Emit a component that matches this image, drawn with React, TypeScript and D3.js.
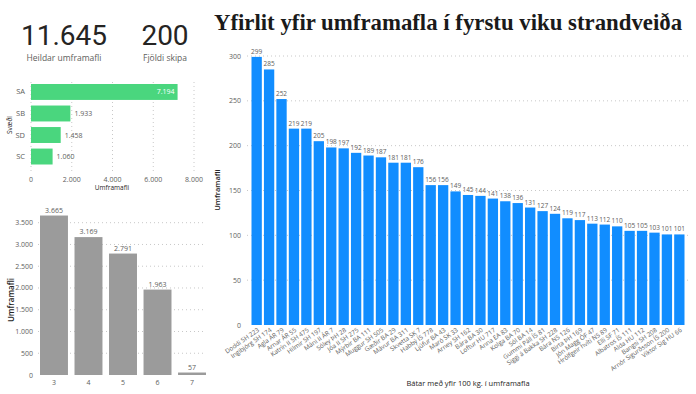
import * as d3 from "d3";
import React from "react";

const boats = [
  "Doddi SH 223", "Ingibjörg SH 174", "Agla ÁR 79", "Arnar ÁR 55", "Katrín II SH 475",
  "Hilmir SH 197", "Máni II ÁR 7", "Sóley ÞH 28", "Jóa II SH 275", "Mýrbir BA 111",
  "Muggur SH 505", "Gæðir BA 29", "Mávur BA 311", "Skvetta SK 7", "Habbý ÍS 778",
  "Ljúfur BA 43", "Maró SK 33", "Arney SH 162", "Bára BA 30", "Loftur HU 717",
  "Anna EA 83", "Kolga BA 70", "Sól BA 14", "Gummi Páll ÍS 81", "Siggi á Bakka SH 228",
  "Bára NS 126", "Birta ÞH 169", "Jón Magg ÓF 47", "Hrólfgeir hvíti NS 89", "Elli SF 71",
  "Albatros ÍS 111", "Alda HU 112", "Bangsi SH 208", "Arnór Sigurðsson ÍS 200", "Viktor Sig HU 66",
];
const boatValues = [
  299, 285, 252, 219, 219, 205, 198, 197, 192, 189, 187, 181, 181, 176, 156, 156, 149, 145,
  144, 141, 138, 136, 131, 127, 124, 119, 117, 113, 112, 110, 105, 105, 103, 101, 101,
];
const mainTicks = [0, 50, 100, 150, 200, 250, 300];

const areas = ["SA", "SB", "SD", "SC"];
const areaValues = [7194, 1933, 1458, 1060];
const areaTicks = [0, 2000, 4000, 6000, 8000];

const groups = ["3", "4", "5", "6", "7"];
const groupValues = [3665, 3169, 2791, 1963, 57];
const groupTicks = [0, 500, 1000, 1500, 2000, 2500, 3000, 3500];

const totalCatch = 11645;
const boatCount = 200;

const fmt = (v: number) => d3.format(",")(v).replace(/,/g, ".");

const FONT = "'Open Sans', 'Noto Sans', sans-serif";
const GRAY = "#605E5C";
const DARK = "#252423";

const App: React.FC = () => {
  // main chart scales
  const xMain = d3.scaleBand<string>().domain(boats).range([251.5, 684.5]).paddingInner(0.17).paddingOuter(0);
  const yMain = d3.scaleLinear().domain([0, 300]).range([325, 56]);

  // area (horizontal) chart
  const xArea = d3.scaleLinear().domain([0, 8000]).range([31, 194]);
  const yArea = d3.scaleBand<string>().domain(areas).range([84, 164.5]).paddingInner(0.26).paddingOuter(0);

  // group column chart
  const xGrp = d3.scaleBand<string>().domain(groups).range([40, 206]).paddingInner(0.19).paddingOuter(0);
  const yGrp = d3.scaleLinear().domain([0, 3500]).range([375, 222.7]);

  return (
    <svg width={696} height={394} style={{ position: "absolute", left: 0, top: 0, background: "#fff" }} fontFamily={FONT}>
      {/* KPI cards */}
      <text x={64} y={45} textAnchor="middle" fontFamily="Roboto, sans-serif" fontSize={28} fill={DARK}>{fmt(totalCatch)}</text>
      <text x={64} y={61} textAnchor="middle" fontSize={8.5} fill={GRAY}>Heildar umframafli</text>
      <text x={165} y={45} textAnchor="middle" fontFamily="Roboto, sans-serif" fontSize={28} fill={DARK}>{boatCount}</text>
      <text x={165} y={61} textAnchor="middle" fontSize={8.5} fill={GRAY}>Fjöldi skipa</text>

      {/* title */}
      <text x={448} y={30} textAnchor="middle" fontFamily="'Liberation Serif', serif" fontWeight="bold" fontSize={22.8} fill="#1a1a1a">
        Yfirlit yfir umframafla í fyrstu viku strandveiða
      </text>

      {/* horizontal area chart */}
      <g>
        {areaTicks.map((t) => (
          <g key={t}>
            <line x1={xArea(t)} x2={xArea(t)} y1={82} y2={172} stroke="#c8c8c8" strokeDasharray="1,3" />
            <text x={xArea(t)} y={182} textAnchor="middle" fontSize={7} fill={GRAY}>{fmt(t)}</text>
          </g>
        ))}
        {areas.map((a, i) => {
          const v = areaValues[i];
          const y = yArea(a)!;
          const bw = yArea.bandwidth();
          const inside = i === 0;
          return (
            <g key={a}>
              <rect x={xArea(0)} y={y} width={xArea(v) - xArea(0)} height={bw} fill="#4AD67E" />
              <text x={25} y={y + bw / 2 + 2.5} textAnchor="end" fontSize={7.5} fill={GRAY}>{a}</text>
              <text
                x={inside ? xArea(v) - 3 : xArea(v) + 4}
                y={y + bw / 2 + 2.5}
                textAnchor={inside ? "end" : "start"}
                fontSize={7}
                fill={inside ? "#fff" : GRAY}
              >
                {fmt(v)}
              </text>
            </g>
          );
        })}
        <text x={112} y={190} textAnchor="middle" fontSize={6.5} fill={DARK}>Umframafli</text>
        <text transform="translate(12,125) rotate(-90)" textAnchor="middle" fontSize={6.5} fill={DARK}>Svæði</text>
      </g>

      {/* group column chart */}
      <g>
        {groupTicks.map((t) => (
          <g key={t}>
            {t > 0 && <line x1={38} x2={205} y1={yGrp(t)} y2={yGrp(t)} stroke="#c8c8c8" strokeDasharray="1,3" />}
            <text x={33} y={yGrp(t) + 2.5} textAnchor="end" fontSize={7} fill={GRAY}>{fmt(t)}</text>
          </g>
        ))}
        {groups.map((g, i) => {
          const v = groupValues[i];
          const x = xGrp(g)!;
          const bw = xGrp.bandwidth();
          return (
            <g key={g}>
              <rect x={x} y={yGrp(v)} width={bw} height={yGrp(0) - yGrp(v)} fill="#9B9B9B" />
              <text x={x + bw / 2} y={yGrp(v) - 3} textAnchor="middle" fontSize={7} fill={GRAY}>{fmt(v)}</text>
              <text x={x + bw / 2} y={385} textAnchor="middle" fontSize={7} fill={GRAY}>{g}</text>
            </g>
          );
        })}
        <text transform="translate(14,300) rotate(-90)" textAnchor="middle" fontSize={8} fontWeight={600} fill={DARK}>Umframafli</text>
      </g>

      {/* main boat chart */}
      <g>
        {mainTicks.map((t) => (
          <g key={t}>
            {t > 0 && <line x1={247} x2={690} y1={yMain(t)} y2={yMain(t)} stroke="#c8c8c8" strokeDasharray="1,3" />}
            <text x={241} y={yMain(t) + 2.5} textAnchor="end" fontSize={7} fill={GRAY}>{t}</text>
          </g>
        ))}
        {boats.map((b, i) => {
          const v = boatValues[i];
          const x = xMain(b)!;
          const bw = xMain.bandwidth();
          return (
            <g key={b}>
              <rect x={x} y={yMain(v)} width={bw} height={yMain(0) - yMain(v)} fill="#118DFF" />
              <text x={x + bw / 2} y={yMain(v) - 3} textAnchor="middle" fontSize={6.5} fill={GRAY}>{v}</text>
              <text
                transform={`translate(${x + bw / 2 + 3},${yMain(0) + 6}) rotate(-35)`}
                textAnchor="end"
                fontSize={6.3}
                fill={GRAY}
              >
                {b}
              </text>
            </g>
          );
        })}
        <text transform="translate(220,190) rotate(-90)" textAnchor="middle" fontSize={7.5} fontWeight={600} fill={DARK}>Umframafli</text>
        <text x={468} y={386} textAnchor="middle" fontSize={7.5} fill={DARK}>Bátar með yfir 100 kg. í umframafla</text>
      </g>
    </svg>
  );
};

export default App;
